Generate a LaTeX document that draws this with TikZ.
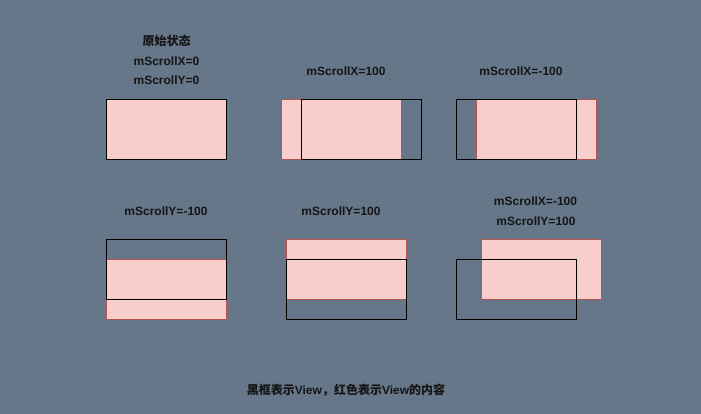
\documentclass[tikz,border=0pt]{standalone}
\usepackage{fontspec}
\setmainfont{Liberation Sans}
\newfontfamily\cjk{Noto Sans CJK SC}
\definecolor{bgc}{HTML}{667789}
\definecolor{pinkc}{HTML}{F8CECC}
\definecolor{redc}{HTML}{B85450}
\definecolor{txtc}{HTML}{151515}
\begin{document}
\begin{tikzpicture}[x=0.75pt,y=-0.75pt,
  content/.style={fill=pinkc,draw=redc,line width=0.75pt,minimum width=90pt,minimum height=45pt,inner sep=0pt,outer sep=0pt,anchor=north west},
  frame/.style={draw=black,line width=0.9pt,minimum width=90pt,minimum height=45pt,inner sep=0pt,outer sep=0pt,anchor=north west},
  lbl/.style={text=txtc,font=\bfseries\fontsize{9pt}{11pt}\selectfont,inner sep=0pt}]
\fill[bgc] (0,0) rectangle (701,414);
\useasboundingbox (0,0) rectangle (701,414);
% panel 1
\node[content] (c1) at (106.5,99.5) {};
\node[frame] (f1) at (106.5,99.5) {};
\node[lbl] (t1a) at (166.5,41) {\cjk 原始状态};
\node[lbl] (t1b) at (166.5,61) {mScrollX=0};
\node[lbl] (t1c) at (166.5,80.5) {mScrollY=0};
% panel 2
\node[content] (c2) at (281.5,99.5) {};
\node[frame] (f2) at (301.5,99.5) {};
\node[lbl] (t2) at (346,71) {mScrollX=100};
% panel 3
\node[content] (c3) at (476.5,99.5) {};
\node[frame] (f3) at (456.5,99.5) {};
\node[lbl] (t3) at (521,71) {mScrollX=-100};
% panel 4
\node[content] (c4) at (106.5,259.5) {};
\node[frame] (f4) at (106.5,239.5) {};
\node[lbl] (t4) at (166,211) {mScrollY=-100};
% panel 5
\node[content] (c5) at (286.5,239.5) {};
\node[frame] (f5) at (286.5,259.5) {};
\node[lbl] (t5) at (341,211) {mScrollY=100};
% panel 6
\node[content] (c6) at (481.5,239.5) {};
\node[frame] (f6) at (456.5,259.5) {};
\node[lbl] (t6a) at (535.5,201) {mScrollX=-100};
\node[lbl] (t6b) at (536,221) {mScrollY=100};
% caption
\node[lbl] (cap) at (346,390.5) {{\cjk 黑框表示}View{\cjk ，红色表示}View{\cjk 的内容}};
\end{tikzpicture}
\end{document}
